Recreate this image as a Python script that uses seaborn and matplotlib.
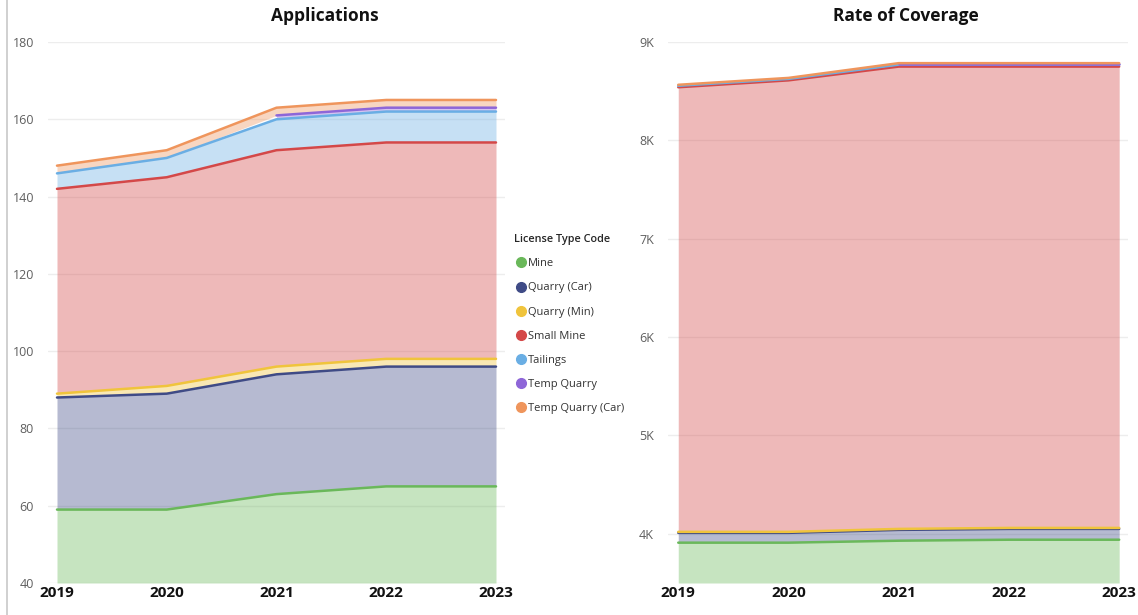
import numpy as np
import pandas as pd
import matplotlib
matplotlib.use("Agg")
import matplotlib.pyplot as plt
import seaborn as sns
from matplotlib.lines import Line2D

# ---------------- data ----------------
years = [2019, 2020, 2021, 2022, 2023]
license_types = ["Mine", "Quarry (Car)", "Quarry (Min)", "Small Mine",
                 "Tailings", "Temp Quarry", "Temp Quarry (Car)"]

# Applications (count per license type)
app_mine = [59, 59, 63, 65, 65]
app_quarry_car = [29, 30, 31, 31, 31]
app_quarry_min = [1, 2, 2, 2, 2]
app_small_mine = [53, 54, 56, 56, 56]
app_tailings = [4, 5, 8, 8, 8]
app_temp_quarry = [np.nan, np.nan, 1, 1, 1]
app_temp_quarry_car = [2, 2, 2, 2, 2]

# Rate of Coverage
cov_mine = [3910, 3910, 3930, 3940, 3940]
cov_quarry_car = [100, 100, 110, 110, 110]
cov_quarry_min = [10, 10, 10, 10, 10]
cov_small_mine = [4520, 4590, 4700, 4690, 4690]
cov_tailings = [15, 15, 20, 20, 20]
cov_temp_quarry = [np.nan, np.nan, 5, 5, 5]
cov_temp_quarry_car = [10, 10, 10, 10, 10]

line_colors = ["#6AB85A", "#3F4B86", "#F0C43C", "#D44848",
               "#6AAEE4", "#8E66D8", "#EF955C"]

app_df = pd.DataFrame({"Year": years, "Mine": app_mine, "Quarry (Car)": app_quarry_car,
                       "Quarry (Min)": app_quarry_min, "Small Mine": app_small_mine,
                       "Tailings": app_tailings, "Temp Quarry": app_temp_quarry,
                       "Temp Quarry (Car)": app_temp_quarry_car})
cov_df = pd.DataFrame({"Year": years, "Mine": cov_mine, "Quarry (Car)": cov_quarry_car,
                       "Quarry (Min)": cov_quarry_min, "Small Mine": cov_small_mine,
                       "Tailings": cov_tailings, "Temp Quarry": cov_temp_quarry,
                       "Temp Quarry (Car)": cov_temp_quarry_car})

sns.set_theme(style="white")
plt.rcParams["font.family"] = ["Open Sans", "DejaVu Sans"]

W, H = 1138, 615
fig = plt.figure(figsize=(W / 100, H / 100), dpi=100)


def px_axes(x0, x1, ytop, ybot):
    return fig.add_axes([x0 / W, 1 - ybot / H, (x1 - x0) / W, (ybot - ytop) / H])


def stacked(ax, df, base0):
    base = np.zeros(len(df))
    x = df["Year"].to_numpy()
    for name, col in zip(license_types, line_colors):
        vals = df[name].to_numpy(dtype=float)
        valid = ~np.isnan(vals)
        top = base + np.nan_to_num(vals)
        lower = base.copy()
        if name == "Mine":
            lower = np.full(len(df), base0, dtype=float)
        ax.fill_between(x[valid], lower[valid], top[valid], color=col,
                        alpha=0.38, linewidth=0, zorder=2)
        line_df = pd.DataFrame({"Year": x[valid], "v": top[valid]})
        sns.lineplot(data=line_df, x="Year", y="v", ax=ax, color=col,
                     linewidth=1.8, zorder=3, legend=False)
        base = top


def style_axes(ax):
    for s in ax.spines.values():
        s.set_visible(False)
    ax.grid(axis="y", color="#EDEDED", linewidth=1, zorder=0)
    ax.grid(axis="x", visible=False)
    ax.set_xlabel("")
    ax.set_ylabel("")
    ax.set_xticks(years)
    ax.set_xticklabels([str(y) for y in years], fontsize=11, fontweight="bold",
                       color="#111111")
    ax.tick_params(axis="x", length=0, pad=2)
    ax.tick_params(axis="y", length=0, pad=10, labelsize=9, labelcolor="#5F5F5F")


# Left chart: Applications
ax1 = px_axes(48, 505, 42, 583)
stacked(ax1, app_df, 40)
style_axes(ax1)
ax1.set_xlim(2019 - 9 / 109.75, 2023 + 9 / 109.75)
ax1.set_ylim(40, 180)
ax1.set_yticks(range(40, 181, 20))

# Right chart: Rate of Coverage
ax2 = px_axes(668, 1128, 42, 583)
stacked(ax2, cov_df, 3500)
style_axes(ax2)
ax2.set_xlim(2019 - 0.093, 2023 + 0.08)
ax2.set_ylim(3500, 9000)
ax2.set_yticks(range(4000, 9001, 1000))
ax2.set_yticklabels([f"{v // 1000}K" for v in range(4000, 9001, 1000)])

fig.text(325 / W, 1 - 16 / H, "Applications", ha="center", va="center",
         fontsize=12.5, fontweight="bold", color="#111111")
fig.text(906 / W, 1 - 16 / H, "Rate of Coverage", ha="center", va="center",
         fontsize=12.5, fontweight="bold", color="#111111")

handles = [Line2D([], [], marker="o", linestyle="none", markersize=7,
                  markerfacecolor=c, markeredgecolor=c) for c in line_colors]
leg = fig.legend(handles, license_types, loc="upper left",
                 bbox_to_anchor=(512 / W, 1 - 232 / H), frameon=False,
                 title="License Type Code", fontsize=8, title_fontsize=7.8,
                 handletextpad=0.0, labelspacing=1.18, borderaxespad=0,
                 handlelength=1.2, borderpad=0.2)
leg._legend_box.align = "left"
leg.get_title().set_fontweight("semibold")
for t in leg.get_texts():
    t.set_color("#333333")

# thin frame line at the left edge
fig.add_artist(Line2D([7 / W, 7 / W], [0, 1], color="#C8C8C8", linewidth=1.2))

fig.savefig("out.png", dpi=100)
